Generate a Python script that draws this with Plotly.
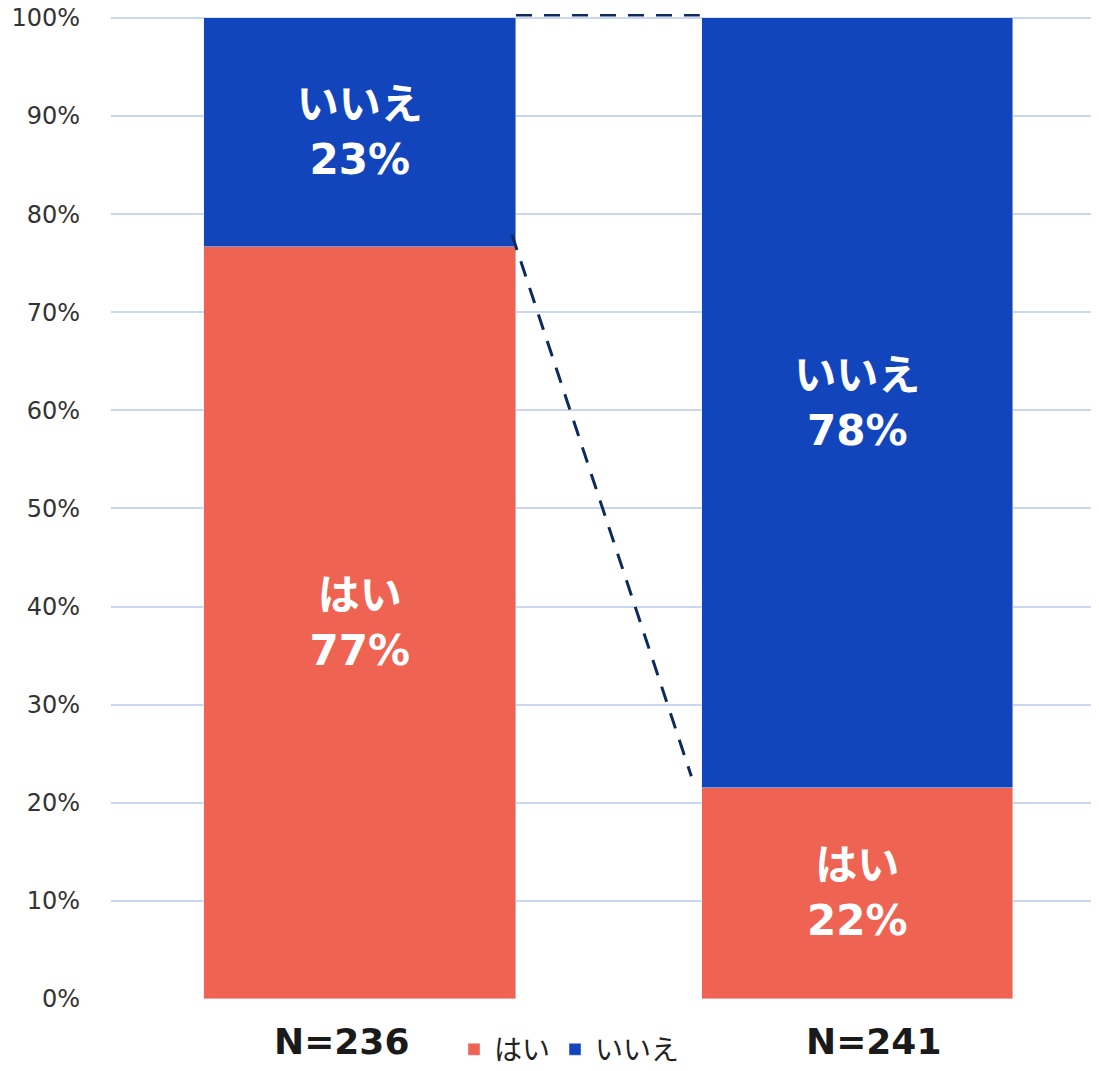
import plotly.graph_objects as go

categories = ["N=236", "N=241"]
hai = [76.7, 21.5]
iie = [23.3, 78.5]
hai_labels = ["はい<br>77%", "はい<br>22%"]
iie_labels = ["いいえ<br>23%", "いいえ<br>78%"]
ytick_vals = [0, 10, 20, 30, 40, 50, 60, 70, 80, 90, 100]
ytick_text = [f"{v}%" for v in ytick_vals]

RED = "#EE6352"
BLUE = "#1245BC"
FONT = "DejaVu Sans, Noto Sans CJK JP"
xpos = [0, 1]
label_shift = [-19, 16]

fig = go.Figure()
fig.add_trace(go.Bar(x=xpos, y=hai, name="はい", marker_color=RED, width=0.627,
                     text=hai_labels, textposition="inside", insidetextanchor="middle",
                     textfont=dict(color="white", size=42, family=FONT, weight="bold"),
                     hoverinfo="skip"))
fig.add_trace(go.Bar(x=xpos, y=iie, name="いいえ", marker_color=BLUE, width=0.627,
                     text=iie_labels, textposition="inside", insidetextanchor="middle",
                     textfont=dict(color="white", size=42, family=FONT, weight="bold"),
                     hoverinfo="skip"))

# dashed connector lines
line_style = dict(color="#0F2A5C", width=3, dash="16px,12px")
fig.add_shape(type="line", x0=0.3136, x1=0.683, y0=100.3, y1=100.3, line=line_style, layer="above")
fig.add_shape(type="line", x0=0.3055, x1=0.666, y0=77.9, y1=22.7, line=line_style, layer="above")

# category labels (slightly offset from bar centres as in the reference)
for xv, lab, sh in zip(xpos, categories, label_shift):
    fig.add_annotation(x=xv, y=0, xref="x", yref="y", text=f"<b>{lab}</b>",
                       showarrow=False, xshift=sh, yanchor="top", yshift=-20,
                       font=dict(size=36, family=FONT, color="#1a1a1a"))

fig.update_layout(
    barmode="stack",
    width=1091, height=1063,
    margin=dict(l=103, r=2, t=6, b=72, autoexpand=False),
    plot_bgcolor="white", paper_bgcolor="white",
    font=dict(family=FONT, color="#222222"),
    showlegend=True,
    legend=dict(orientation="h", x=0.465, xanchor="center", y=-0.026, yanchor="top",
                traceorder="normal",
                font=dict(size=28, family=FONT, color="#222222"),
                itemwidth=30, tracegroupgap=0),
    bargap=0,
)
fig.update_xaxes(range=[-0.5005, 1.4814], tickvals=xpos, ticktext=categories,
                 showticklabels=False,
                 showgrid=False, zeroline=False, showline=False, ticks="",
                 automargin=False)
fig.update_yaxes(range=[0, 100.4], tickvals=ytick_vals, ticktext=ytick_text,
                 tickfont=dict(size=24, family=FONT, color="#333333"),
                 showgrid=True, gridcolor="#C9D7F2", gridwidth=2, zeroline=False,
                 ticks="", ticklabelstandoff=30, automargin=False,
                 ticklabeloverflow="allow")

fig.write_html("out.html")
